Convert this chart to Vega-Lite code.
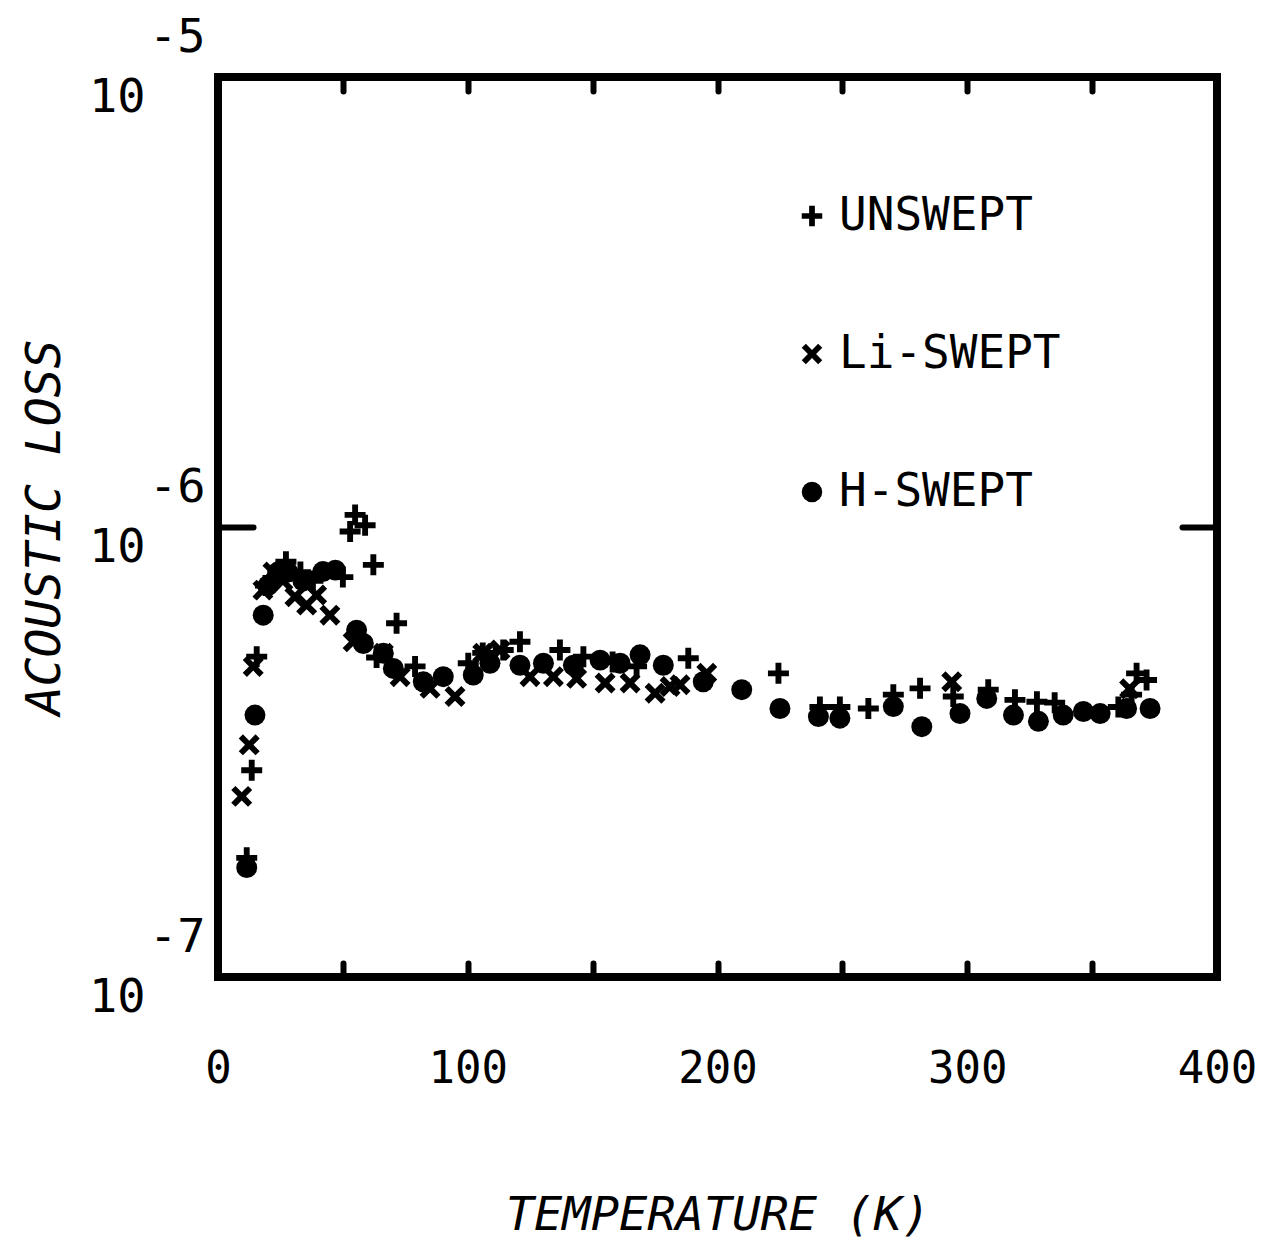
{
  "$schema": "https://vega.github.io/schema/vega-lite/v6.json",
  "width": 999,
  "height": 900,
  "autosize": {"type": "none"},
  "padding": {"left": 218, "top": 77, "right": 51, "bottom": 268},
  "background": "white",
  "config": {
    "view": {"stroke": "black", "strokeWidth": 8},
    "font": "DejaVu Sans Mono",
    "axis": {"grid": false, "domain": false, "tickColor": "black", "tickWidth": 6, "tickCap": "round", "labelColor": "black", "titleColor": "black", "labelFont": "DejaVu Sans Mono", "titleFont": "DejaVu Sans Mono"}
  },
  "data": {"values": [
    {"series": "UNSWEPT", "T": 11.5, "loss": 1.84e-7},
    {"series": "UNSWEPT", "T": 13.5, "loss": 2.88e-7},
    {"series": "UNSWEPT", "T": 15.5, "loss": 5.15e-7},
    {"series": "UNSWEPT", "T": 19, "loss": 7.41e-7},
    {"series": "UNSWEPT", "T": 24, "loss": 7.94e-7},
    {"series": "UNSWEPT", "T": 27.2, "loss": 8.37e-7},
    {"series": "UNSWEPT", "T": 33, "loss": 7.94e-7},
    {"series": "UNSWEPT", "T": 38, "loss": 7.59e-7},
    {"series": "UNSWEPT", "T": 50, "loss": 7.74e-7},
    {"series": "UNSWEPT", "T": 52.9, "loss": 9.77e-7},
    {"series": "UNSWEPT", "T": 54.9, "loss": 1.064e-6},
    {"series": "UNSWEPT", "T": 58.9, "loss": 1.009e-6},
    {"series": "UNSWEPT", "T": 62.2, "loss": 8.24e-7},
    {"series": "UNSWEPT", "T": 63.5, "loss": 5.13e-7},
    {"series": "UNSWEPT", "T": 71.5, "loss": 6.11e-7},
    {"series": "UNSWEPT", "T": 78.9, "loss": 4.90e-7},
    {"series": "UNSWEPT", "T": 100.2, "loss": 4.98e-7},
    {"series": "UNSWEPT", "T": 106, "loss": 5.25e-7},
    {"series": "UNSWEPT", "T": 114.2, "loss": 5.33e-7},
    {"series": "UNSWEPT", "T": 120.9, "loss": 5.56e-7},
    {"series": "UNSWEPT", "T": 136.9, "loss": 5.33e-7},
    {"series": "UNSWEPT", "T": 146.3, "loss": 5.15e-7},
    {"series": "UNSWEPT", "T": 158, "loss": 5.01e-7},
    {"series": "UNSWEPT", "T": 167.6, "loss": 4.90e-7},
    {"series": "UNSWEPT", "T": 188.3, "loss": 5.11e-7},
    {"series": "UNSWEPT", "T": 224.4, "loss": 4.73e-7},
    {"series": "UNSWEPT", "T": 241, "loss": 3.98e-7},
    {"series": "UNSWEPT", "T": 249, "loss": 3.98e-7},
    {"series": "UNSWEPT", "T": 260.4, "loss": 3.95e-7},
    {"series": "UNSWEPT", "T": 270.4, "loss": 4.24e-7},
    {"series": "UNSWEPT", "T": 281.1, "loss": 4.38e-7},
    {"series": "UNSWEPT", "T": 294.4, "loss": 4.20e-7},
    {"series": "UNSWEPT", "T": 308.4, "loss": 4.35e-7},
    {"series": "UNSWEPT", "T": 319.1, "loss": 4.13e-7},
    {"series": "UNSWEPT", "T": 327.9, "loss": 4.09e-7},
    {"series": "UNSWEPT", "T": 335, "loss": 4.07e-7},
    {"series": "UNSWEPT", "T": 360.5, "loss": 3.98e-7},
    {"series": "UNSWEPT", "T": 365.8, "loss": 4.24e-7},
    {"series": "UNSWEPT", "T": 367.8, "loss": 4.73e-7},
    {"series": "UNSWEPT", "T": 371.8, "loss": 4.57e-7},
    {"series": "Li-SWEPT", "T": 9.5, "loss": 2.52e-7},
    {"series": "Li-SWEPT", "T": 12.5, "loss": 3.28e-7},
    {"series": "Li-SWEPT", "T": 14.1, "loss": 4.90e-7},
    {"series": "Li-SWEPT", "T": 18, "loss": 7.24e-7},
    {"series": "Li-SWEPT", "T": 22, "loss": 7.94e-7},
    {"series": "Li-SWEPT", "T": 26, "loss": 7.59e-7},
    {"series": "Li-SWEPT", "T": 30.8, "loss": 7.00e-7},
    {"series": "Li-SWEPT", "T": 35.5, "loss": 6.71e-7},
    {"series": "Li-SWEPT", "T": 39.5, "loss": 7.06e-7},
    {"series": "Li-SWEPT", "T": 44.8, "loss": 6.37e-7},
    {"series": "Li-SWEPT", "T": 54.1, "loss": 5.56e-7},
    {"series": "Li-SWEPT", "T": 66.2, "loss": 5.24e-7},
    {"series": "Li-SWEPT", "T": 72.9, "loss": 4.65e-7},
    {"series": "Li-SWEPT", "T": 84.9, "loss": 4.38e-7},
    {"series": "Li-SWEPT", "T": 94.9, "loss": 4.20e-7},
    {"series": "Li-SWEPT", "T": 106, "loss": 5.24e-7},
    {"series": "Li-SWEPT", "T": 112.9, "loss": 5.33e-7},
    {"series": "Li-SWEPT", "T": 124.9, "loss": 4.65e-7},
    {"series": "Li-SWEPT", "T": 134.3, "loss": 4.65e-7},
    {"series": "Li-SWEPT", "T": 143.6, "loss": 4.61e-7},
    {"series": "Li-SWEPT", "T": 155, "loss": 4.50e-7},
    {"series": "Li-SWEPT", "T": 165, "loss": 4.50e-7},
    {"series": "Li-SWEPT", "T": 175, "loss": 4.27e-7},
    {"series": "Li-SWEPT", "T": 181, "loss": 4.42e-7},
    {"series": "Li-SWEPT", "T": 185, "loss": 4.46e-7},
    {"series": "Li-SWEPT", "T": 195.7, "loss": 4.73e-7},
    {"series": "Li-SWEPT", "T": 293.8, "loss": 4.53e-7},
    {"series": "Li-SWEPT", "T": 365, "loss": 4.37e-7},
    {"series": "H-SWEPT", "T": 11.5, "loss": 1.75e-7},
    {"series": "H-SWEPT", "T": 14.8, "loss": 3.82e-7},
    {"series": "H-SWEPT", "T": 18.1, "loss": 6.37e-7},
    {"series": "H-SWEPT", "T": 20, "loss": 7.41e-7},
    {"series": "H-SWEPT", "T": 24, "loss": 7.94e-7},
    {"series": "H-SWEPT", "T": 28, "loss": 7.94e-7},
    {"series": "H-SWEPT", "T": 34, "loss": 7.59e-7},
    {"series": "H-SWEPT", "T": 42, "loss": 7.96e-7},
    {"series": "H-SWEPT", "T": 47, "loss": 8.02e-7},
    {"series": "H-SWEPT", "T": 55.5, "loss": 5.90e-7},
    {"series": "H-SWEPT", "T": 58.2, "loss": 5.51e-7},
    {"series": "H-SWEPT", "T": 66.2, "loss": 5.24e-7},
    {"series": "H-SWEPT", "T": 70.2, "loss": 4.85e-7},
    {"series": "H-SWEPT", "T": 82.2, "loss": 4.53e-7},
    {"series": "H-SWEPT", "T": 90.2, "loss": 4.65e-7},
    {"series": "H-SWEPT", "T": 102.2, "loss": 4.69e-7},
    {"series": "H-SWEPT", "T": 108.9, "loss": 4.98e-7},
    {"series": "H-SWEPT", "T": 120.9, "loss": 4.93e-7},
    {"series": "H-SWEPT", "T": 130.3, "loss": 4.98e-7},
    {"series": "H-SWEPT", "T": 142.3, "loss": 4.93e-7},
    {"series": "H-SWEPT", "T": 153, "loss": 5.06e-7},
    {"series": "H-SWEPT", "T": 161, "loss": 4.98e-7},
    {"series": "H-SWEPT", "T": 169, "loss": 5.20e-7},
    {"series": "H-SWEPT", "T": 178.3, "loss": 4.93e-7},
    {"series": "H-SWEPT", "T": 194.3, "loss": 4.53e-7},
    {"series": "H-SWEPT", "T": 209.7, "loss": 4.35e-7},
    {"series": "H-SWEPT", "T": 225, "loss": 3.95e-7},
    {"series": "H-SWEPT", "T": 240.4, "loss": 3.79e-7},
    {"series": "H-SWEPT", "T": 249, "loss": 3.76e-7},
    {"series": "H-SWEPT", "T": 270.4, "loss": 3.99e-7},
    {"series": "H-SWEPT", "T": 281.8, "loss": 3.60e-7},
    {"series": "H-SWEPT", "T": 297.1, "loss": 3.85e-7},
    {"series": "H-SWEPT", "T": 307.8, "loss": 4.16e-7},
    {"series": "H-SWEPT", "T": 318.5, "loss": 3.82e-7},
    {"series": "H-SWEPT", "T": 328.5, "loss": 3.70e-7},
    {"series": "H-SWEPT", "T": 338.4, "loss": 3.82e-7},
    {"series": "H-SWEPT", "T": 346.5, "loss": 3.89e-7},
    {"series": "H-SWEPT", "T": 353.2, "loss": 3.85e-7},
    {"series": "H-SWEPT", "T": 363.8, "loss": 3.95e-7},
    {"series": "H-SWEPT", "T": 373.2, "loss": 3.95e-7}
  ]},
  "layer": [
    {
      "mark": {"type": "point", "filled": true, "color": "black", "opacity": 1, "size": 440, "strokeWidth": 0},
      "encoding": {
        "x": {
          "field": "T", "type": "quantitative",
          "scale": {"domain": [0, 400], "nice": false, "zero": false},
          "axis": {
            "orient": "bottom",
            "values": [0, 50, 100, 150, 200, 250, 300, 350, 400],
            "format": "d",
            "labelExpr": "datum.value % 100 === 0 ? datum.label : ''",
            "tickSize": -14,
            "labelFontSize": 44,
            "labelPadding": 84,
            "labelFlush": false,
            "labelOverlap": false,
            "title": "TEMPERATURE (K)",
            "titleFontSize": 47,
            "titleFontStyle": "italic",
            "titleFontWeight": "normal",
            "titleX": 499.5,
            "titleY": 238,
            "titleBaseline": "middle",
            "titleAlign": "center"
          }
        },
        "y": {
          "field": "loss", "type": "quantitative",
          "scale": {"type": "log", "domain": [1e-7, 1e-5], "nice": false},
          "axis": {
            "orient": "left",
            "values": [1e-7, 1e-6, 1e-5],
            "labelExpr": "'10'",
            "tickSize": -35,
            "labelFontSize": 47,
            "labelAlign": "right",
            "labelBaseline": "middle",
            "labelPadding": 108,
            "labelOffset": 20,
            "labelFlush": false,
            "labelOverlap": false,
            "title": "ACOUSTIC LOSS",
            "titleFontSize": 48,
            "titleFontStyle": "italic",
            "titleFontWeight": "normal",
            "titleX": -173,
            "titleY": 450,
            "titleAngle": -90,
            "titleBaseline": "middle",
            "titleAlign": "center"
          }
        },
        "shape": {
          "field": "series", "type": "nominal",
          "scale": {
            "domain": ["UNSWEPT", "Li-SWEPT", "H-SWEPT"],
            "range": [
              "M-1,-0.28H-0.28V-1H0.28V-0.28H1V0.28H0.28V1H-0.28V0.28H-1Z",
              "M-1,-0.6L-0.6,-1L0,-0.4L0.6,-1L1,-0.6L0.4,0L1,0.6L0.6,1L0,0.4L-0.6,1L-1,0.6L-0.4,0Z",
              "circle"
            ]
          },
          "legend": {
            "orient": "none",
            "legendX": 571,
            "legendY": 116,
            "title": null,
            "padding": 0,
            "labelFontSize": 46,
            "labelFont": "DejaVu Sans Mono",
            "labelColor": "black",
            "labelLimit": 0,
            "labelOffset": 4,
            "symbolSize": 420,
            "symbolFillColor": "black",
            "symbolStrokeColor": "black",
            "symbolStrokeWidth": 0,
            "symbolOpacity": 1,
            "rowPadding": 92
          }
        }
      }
    },
    {
      "mark": {"type": "point", "opacity": 0},
      "encoding": {
        "x": {
          "field": "T", "type": "quantitative",
          "axis": {"orient": "top", "values": [50, 100, 150, 200, 250, 300, 350], "tickSize": -14, "labels": false, "title": null}
        },
        "y": {
          "field": "loss", "type": "quantitative",
          "axis": {"orient": "right", "values": [1e-6], "tickSize": -35, "labels": false, "title": null}
        }
      }
    },
    {
      "mark": {"type": "point", "opacity": 0},
      "encoding": {
        "y": {
          "field": "loss", "type": "quantitative",
          "axis": {
            "orient": "left",
            "offset": 0,
            "values": [1e-7, 1e-6, 1e-5],
            "labelExpr": "'-' + round(-log(datum.value) / LN10)",
            "ticks": false,
            "labelFontSize": 47,
            "labelAlign": "right",
            "labelBaseline": "middle",
            "labelPadding": 13,
            "labelOffset": -40,
            "labelFlush": false,
            "labelOverlap": false,
            "title": null
          }
        }
      }
    }
  ],
  "resolve": {"axis": {"x": "independent", "y": "independent"}}
}
